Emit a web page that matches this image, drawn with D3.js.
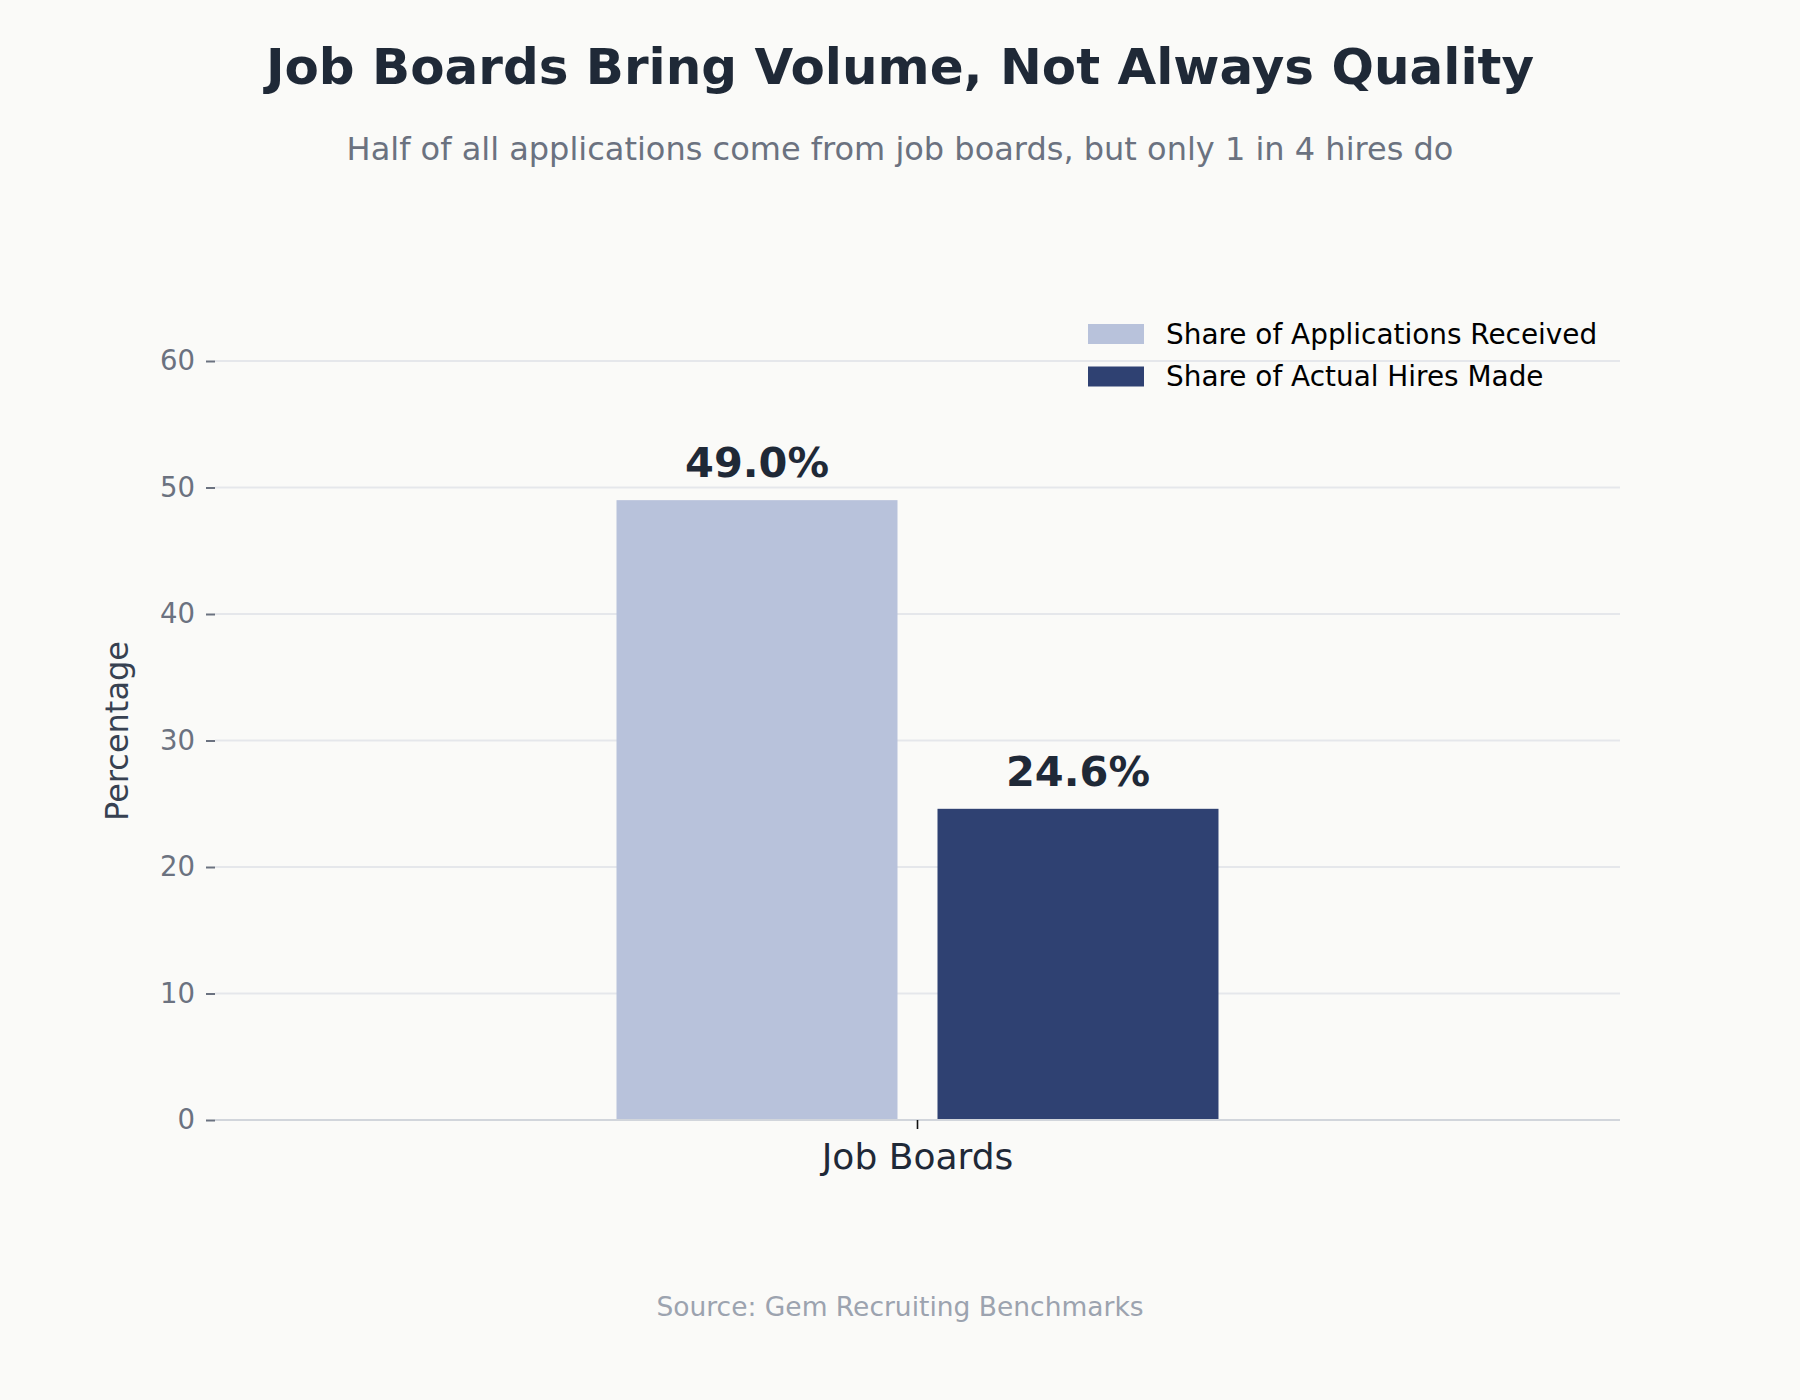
<!DOCTYPE html>
<html>
<head>
<meta charset="utf-8">
<script src="https://cdn.jsdelivr.net/npm/d3@7"></script>
<style>
  html, body { margin: 0; padding: 0; background: #fafaf8; }
  svg { display: block; font-family: "DejaVu Sans", sans-serif; }
</style>
</head>
<body>
<div id="chart"></div>
<script>
// Chart data
var categories = ["Job Boards"];
var seriesNames = ["Share of Applications Received", "Share of Actual Hires Made"];
var seriesValues = [[49.0], [24.6]];
var seriesColors = ["#b8c2db", "#2f4172"];
var yTicks = [0, 10, 20, 30, 40, 50, 60];

var width = 1800, height = 1400;
var margin = {left: 215, right: 180, top: 361, bottom: 280};

var svg = d3.select("#chart").append("svg")
    .attr("width", width)
    .attr("height", height);

svg.append("rect")
    .attr("width", width)
    .attr("height", height)
    .attr("fill", "#fafaf8");

// Scales
var x = d3.scaleBand()
    .domain(categories)
    .range([margin.left, width - margin.right])
    .paddingInner(0)
    .paddingOuter(0.667);

var xSub = d3.scaleBand()
    .domain(seriesNames)
    .range([0, x.bandwidth()])
    .paddingInner(0.1246)
    .paddingOuter(0);

var y = d3.scaleLinear()
    .domain([0, 60])
    .range([height - margin.bottom, margin.top]);

// Grid lines
svg.append("g")
    .selectAll("line")
    .data(yTicks.filter(d => d > 0))
    .join("line")
    .attr("x1", margin.left)
    .attr("x2", width - margin.right)
    .attr("y1", d => y(d))
    .attr("y2", d => y(d))
    .attr("stroke", "#e5e7eb")
    .attr("stroke-width", 1.8);

// Y axis
var yAxis = svg.append("g")
    .attr("transform", "translate(" + margin.left + ",0)")
    .call(d3.axisLeft(y).tickValues(yTicks).tickSize(9).tickPadding(11));
yAxis.select(".domain").remove();
yAxis.selectAll(".tick line").attr("stroke", "#6b7280").attr("stroke-width", 2);
yAxis.selectAll(".tick text")
    .attr("fill", "#6b7280")
    .style("font-size", "27.5px")
    .style("font-family", "DejaVu Sans");

// Bars
var groups = svg.append("g")
    .selectAll("g")
    .data(categories)
    .join("g")
    .attr("transform", d => "translate(" + x(d) + ",0)");

var barData = (d, i) => seriesNames.map((s, k) => ({series: s, k: k, value: seriesValues[k][categories.indexOf(d)]}));

groups.selectAll("rect")
    .data(barData)
    .join("rect")
    .attr("x", d => xSub(d.series))
    .attr("width", xSub.bandwidth())
    .attr("y", d => y(d.value))
    .attr("height", d => y(0) - y(d.value))
    .attr("fill", d => seriesColors[d.k]);

groups.selectAll("text.value")
    .data(barData)
    .join("text")
    .attr("class", "value")
    .attr("x", d => xSub(d.series) + xSub.bandwidth() / 2)
    .attr("y", d => y(d.value) - 23)
    .attr("text-anchor", "middle")
    .attr("fill", "#1f2937")
    .style("font-size", "41.5px")
    .style("font-weight", "bold")
    .text(d => d.value.toFixed(1) + "%");

// X axis
var xAxis = svg.append("g")
    .attr("transform", "translate(0," + y(0) + ")")
    .call(d3.axisBottom(x).tickSize(9).tickPadding(14));
xAxis.select(".domain")
    .attr("stroke", "#d1d5db")
    .attr("stroke-width", 2)
    .attr("d", "M" + margin.left + ",0H" + (width - margin.right));
xAxis.selectAll(".tick line").attr("stroke", "#111").attr("stroke-width", 1.6);
xAxis.selectAll(".tick text")
    .attr("fill", "#1f2937")
    .attr("dy", "0.71em")
    .style("font-size", "36px")
    .style("font-family", "DejaVu Sans");

// Y label
svg.append("text")
    .attr("transform", "translate(128,731) rotate(-90)")
    .attr("text-anchor", "middle")
    .attr("fill", "#374151")
    .style("font-size", "32px")
    .text("Percentage");

// Legend
var legend = svg.append("g")
    .selectAll("g")
    .data(seriesNames)
    .join("g")
    .attr("transform", (d, i) => "translate(1088," + (324 + i * 42.5) + ")");

legend.append("rect")
    .attr("width", 56)
    .attr("height", 20)
    .attr("fill", (d, i) => seriesColors[i]);

legend.append("text")
    .attr("x", 78)
    .attr("y", 19.5)
    .attr("fill", "#000")
    .style("font-size", "27.9px")
    .text(d => d);

// Titles
svg.append("text")
    .attr("x", 900)
    .attr("y", 84)
    .attr("text-anchor", "middle")
    .attr("fill", "#1f2937")
    .style("font-size", "50px")
    .style("font-weight", "bold")
    .text("Job Boards Bring Volume, Not Always Quality");

svg.append("text")
    .attr("x", 900)
    .attr("y", 160)
    .attr("text-anchor", "middle")
    .attr("fill", "#6b7280")
    .style("font-size", "32px")
    .text("Half of all applications come from job boards, but only 1 in 4 hires do");

svg.append("text")
    .attr("x", 900)
    .attr("y", 1316)
    .attr("text-anchor", "middle")
    .attr("fill", "#9ca3af")
    .style("font-size", "26.5px")
    .text("Source: Gem Recruiting Benchmarks");
</script>
</body>
</html>
